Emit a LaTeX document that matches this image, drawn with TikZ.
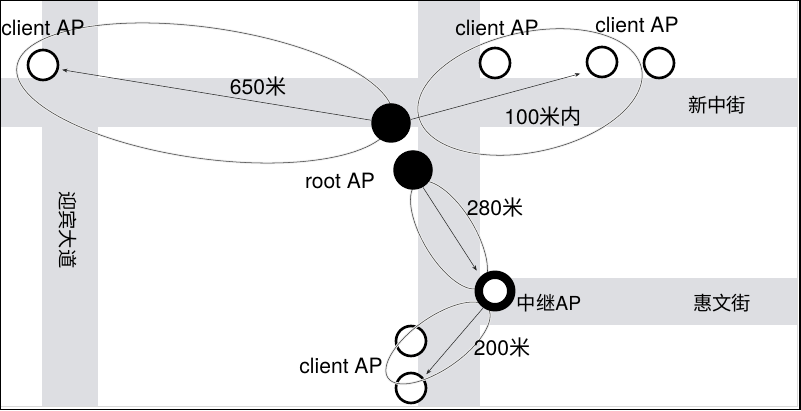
\documentclass[tikz,border=0pt]{standalone}
\usepackage{fontspec}
\setmainfont{TeX Gyre Heros}
\newfontfamily\cjk{Noto Sans CJK SC}
\usetikzlibrary{arrows.meta}
\definecolor{roadgray}{RGB}{221,222,226}
\tikzset{
  road/.style={fill=roadgray},
  clientap/.style={circle,draw=black,fill=white,line width=1.5pt,minimum size=0.6cm,inner sep=0pt},
  rootap/.style={circle,fill=black,minimum size=0.79cm,inner sep=0pt},
  relayap/.style={circle,draw=black,fill=white,line width=4.8pt,minimum size=0.65cm,inner sep=0pt},
  coverage/.style={draw=black!75,line width=0.3pt,preaction={draw=black!7,line width=1.4pt}},
  wifilink/.style={draw=black!85,line width=0.3pt,-{Stealth[length=3pt,width=2.2pt]}},
  tag/.style={font=\fontsize{12}{14}\selectfont,inner sep=0pt},
  streetname/.style={font=\cjk\fontsize{11}{13}\selectfont,inner sep=0pt},
}
\begin{document}
\begin{tikzpicture}[x=0.02cm,y=-0.02cm]
  \useasboundingbox (0,0) rectangle (801,411);
  % Streets
  \fill[road] (0,78) rectangle (797,127);
  \fill[road] (42,0) rectangle (98,406);
  \fill[road] (418,0) rectangle (480,406);
  \fill[road] (480,278) rectangle (797,325);

  % Client APs
  \node[clientap] (client1) at (43,65) {};
  \node[clientap] (client2) at (495,63) {};
  \node[clientap] (client3) at (602,62) {};
  \node[clientap] (client4) at (659,63) {};
  \node[clientap] (client5) at (411,341) {};
  \node[clientap] (client6) at (411,388) {};

  % Coverage ranges
  \draw[coverage,rotate around={-8:(205,93)}] (205,93) ellipse [x radius=3.8cm,y radius=1.31cm];
  \draw[coverage,rotate around={12:(530,92)}] (530,92) ellipse [x radius=2.28cm,y radius=1.2cm];
  \draw[coverage,rotate around={-59:(449,235)}] (449,235) ellipse [x radius=1.22cm,y radius=0.52cm];
  \draw[coverage,rotate around={35:(438,343)}] (438,343) ellipse [x radius=1.22cm,y radius=0.52cm];

  % Root and relay APs
  \node[rootap] (root1) at (391,123) {};
  \node[rootap] (root2) at (413,170) {};
  \node[relayap] (relay) at (495,291) {};

  % Links
  \draw[wifilink,shorten >=2pt] (root1.172) -- (client1.-15);
  \draw[wifilink,shorten >=5pt] (root1.10) -- (client3.215);
  \draw[wifilink,shorten >=4pt] (root2.-60) -- (relay.135);
  \draw[wifilink,shorten >=2.5pt] (relay.-125) -- (client6.40);

  % Labels
  \node[tag] (c1text) at (43,28) {client AP};
  \node[tag] (c2text) at (497,28) {client AP};
  \node[tag] (c3text) at (637,25) {client AP};
  \node[tag] (c4text) at (341,366) {client AP};
  \node[tag] (roottext) at (340,181) {root AP};
  \node[tag,font=\fontsize{11}{13}\selectfont] (relaytext) at (549,303) {{\cjk 中继}AP};
  \node[tag] (d650) at (258,87) {650{\cjk 米}};
  \node[tag] (d100) at (543,117) {100{\cjk 米内}};
  \node[tag] (d280) at (495,208) {280{\cjk 米}};
  \node[tag] (d200) at (502,348) {200{\cjk 米}};

  % Street names
  \node[streetname] (xinzhong) at (717,105) {新中街};
  \node[streetname] (huiwen) at (722,303) {惠文街};
  \node[streetname,rotate=-90] (yingbin) at (68,230) {迎宾大道};

  % Outer frame
  \draw[black!15,line width=0.4pt] (0,406) -- (797,406) -- (797,0);
  \draw[black,line width=1pt] (0.5,0.5) rectangle (800,409.5);
\end{tikzpicture}
\end{document}
